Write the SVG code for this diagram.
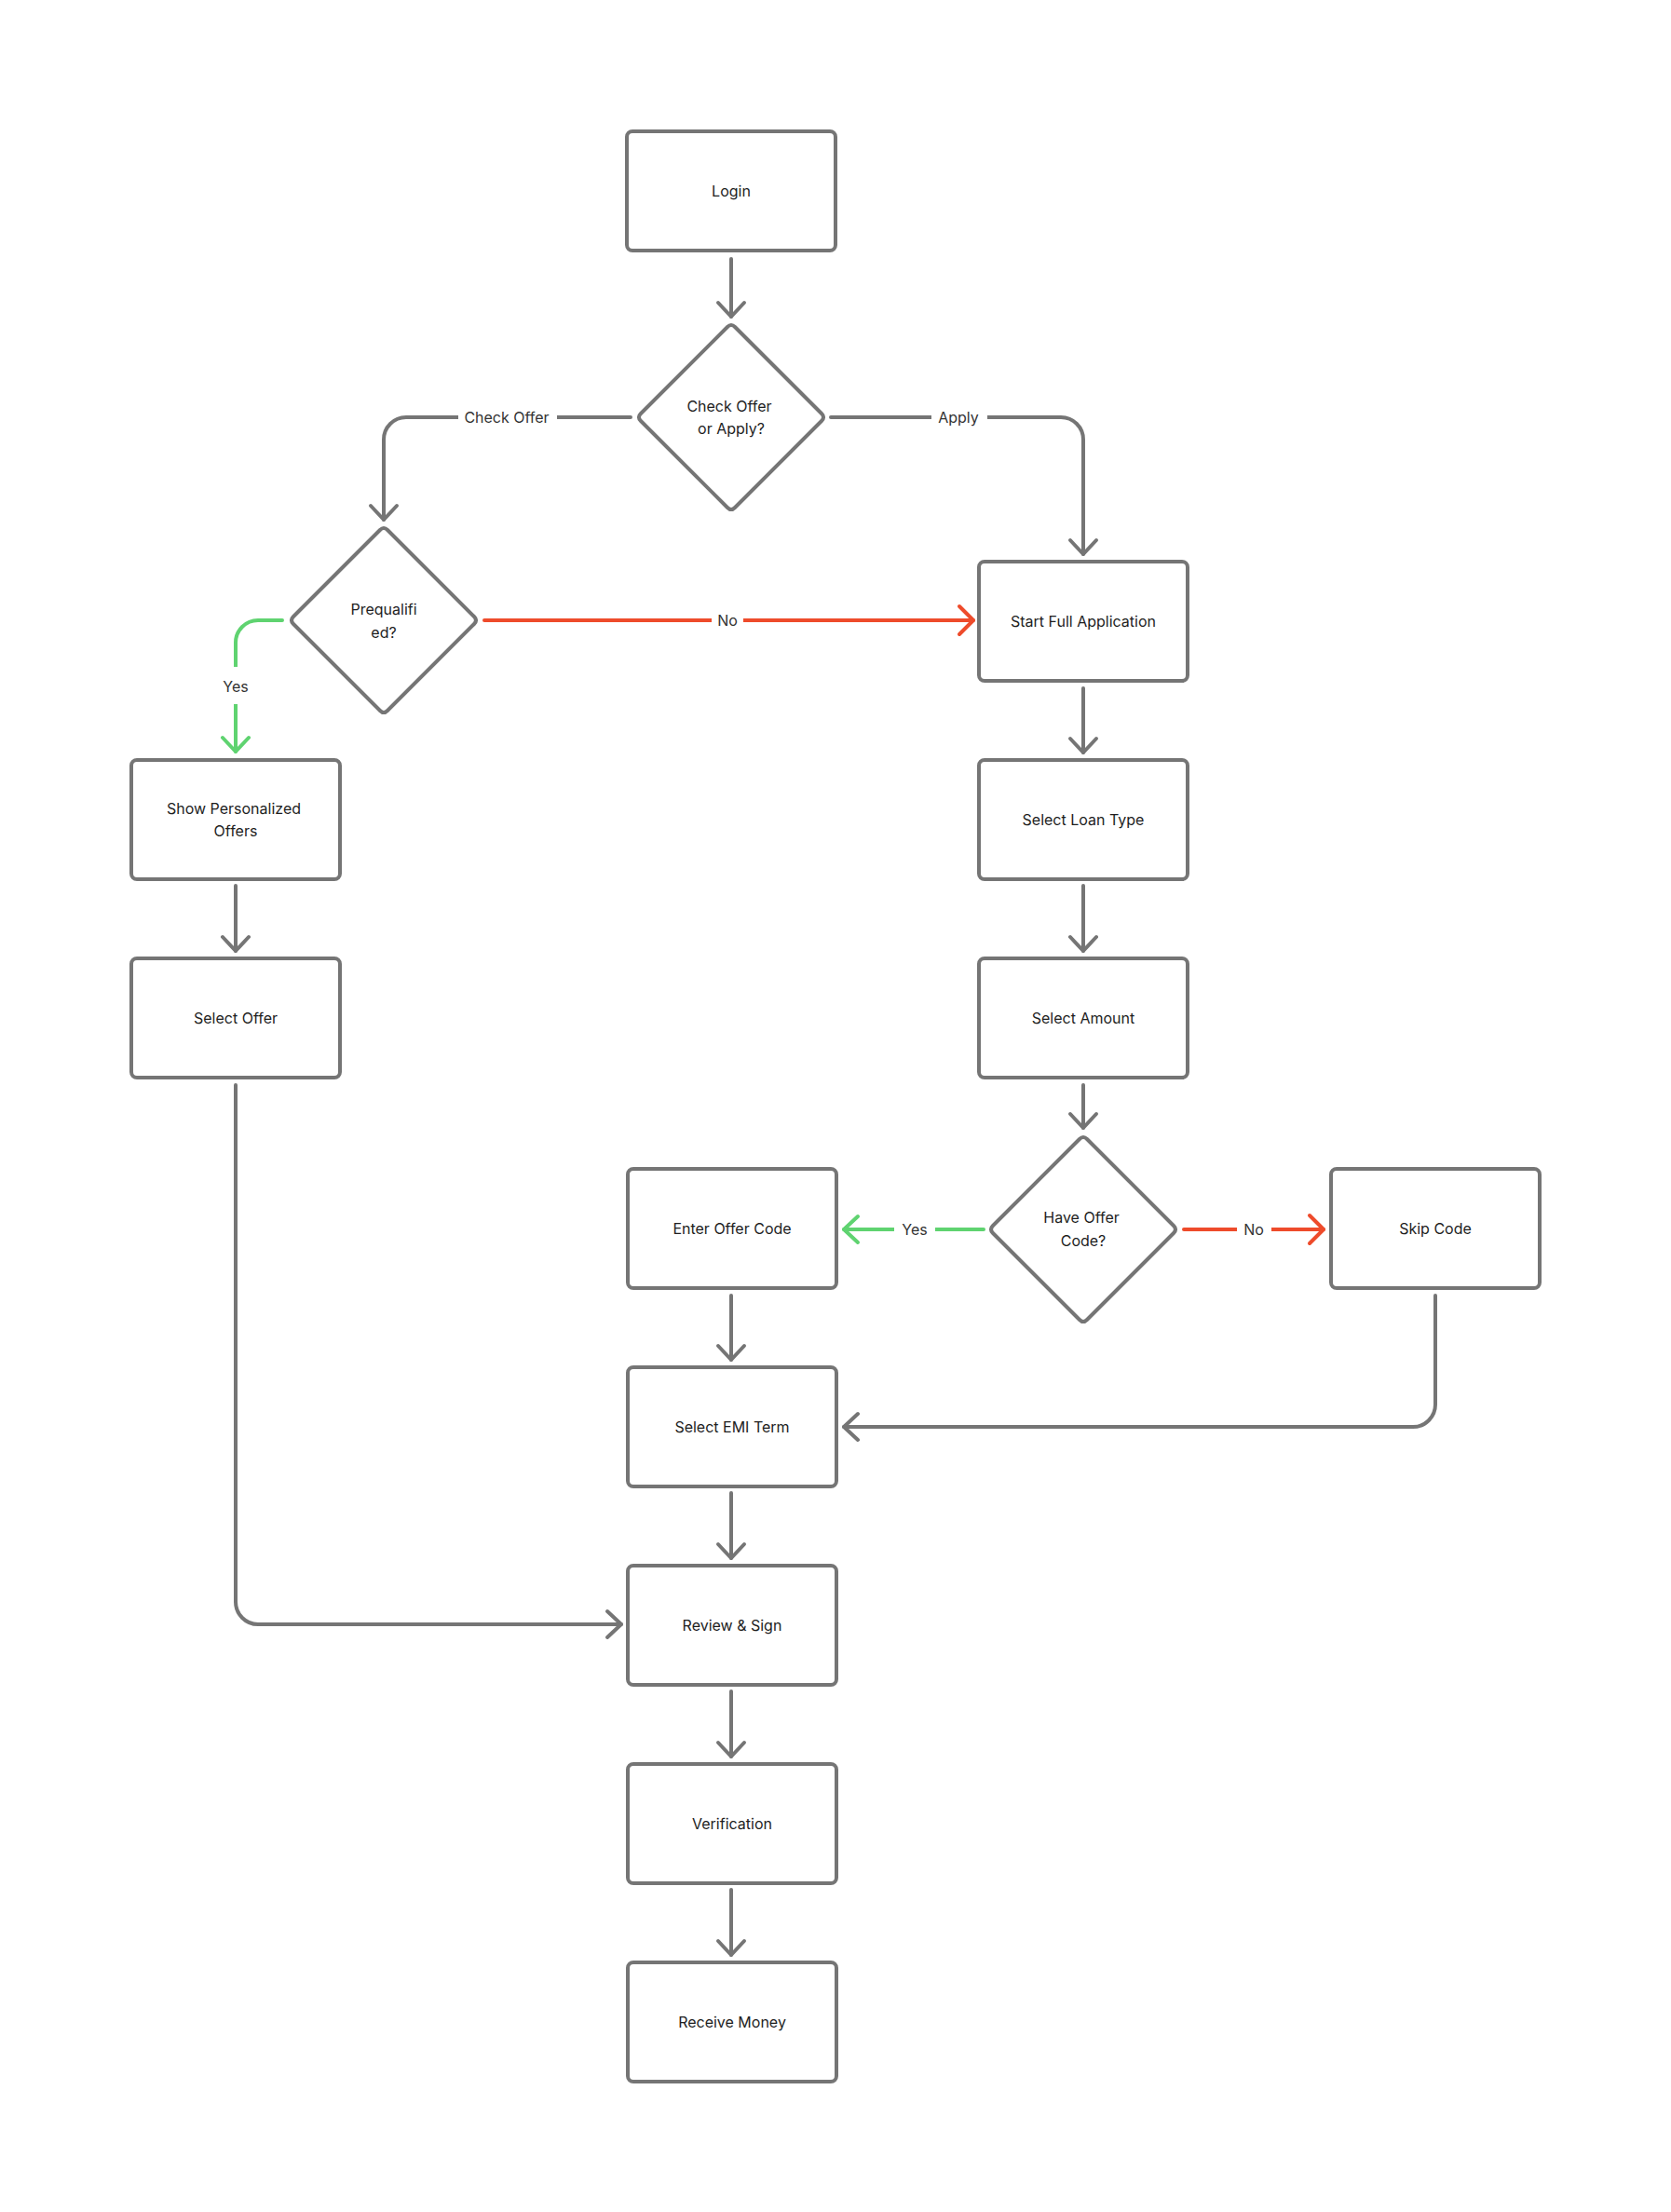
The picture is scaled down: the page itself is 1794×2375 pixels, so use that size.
<svg xmlns="http://www.w3.org/2000/svg" width="1794" height="2375" viewBox="0 0 1794 2375">
<style>
.box{fill:#ffffff;stroke:#757575;stroke-width:4}
.dia{fill:#ffffff;stroke:#757575;stroke-width:4;stroke-linejoin:round}
.t{font-family:Inter,"Noto Sans","Liberation Sans",sans-serif;font-size:16px;fill:#1e1e1e;text-anchor:middle;dominant-baseline:central}
.c{fill:none;stroke:#757575;stroke-width:4;stroke-linecap:round;stroke-linejoin:round}
.red{stroke:#EE4B2B}
.green{stroke:#5FD370}
.lbl{font-family:Inter,"Noto Sans","Liberation Sans",sans-serif;font-size:16px;fill:#333333;text-anchor:middle;dominant-baseline:central}
.bg{fill:#ffffff}
</style>
<defs>
<marker id="ag" markerUnits="userSpaceOnUse" viewBox="-20 -20 40 40" markerWidth="40" markerHeight="40" refX="0" refY="0" orient="auto">
<path d="M-15 -14 L0 0 L-15 14" fill="none" stroke="#757575" stroke-width="4" stroke-linecap="round" stroke-linejoin="round"/>
</marker>
<marker id="ar" markerUnits="userSpaceOnUse" viewBox="-20 -20 40 40" markerWidth="40" markerHeight="40" refX="0" refY="0" orient="auto">
<path d="M-15 -15 L0 0 L-15 15" fill="none" stroke="#EE4B2B" stroke-width="4" stroke-linecap="round" stroke-linejoin="round"/>
</marker>
<marker id="an" markerUnits="userSpaceOnUse" viewBox="-20 -20 40 40" markerWidth="40" markerHeight="40" refX="0" refY="0" orient="auto">
<path d="M-15 -14 L0 0 L-15 14" fill="none" stroke="#5FD370" stroke-width="4" stroke-linecap="round" stroke-linejoin="round"/>
</marker>
</defs>
<rect width="1794" height="2375" fill="#ffffff"/>

<g id="connectors">
<path class="c" d="M785 278 L785 340" marker-end="url(#ag)"/>
<path class="c" d="M677 448 L436 448 A24 24 0 0 0 412 472 L412 558" marker-end="url(#ag)"/>
<rect class="bg" x="492" y="436" width="106" height="24"/>
<text class="lbl" x="544" y="448">Check Offer</text>
<path class="c" d="M892 448 L1139 448 A24 24 0 0 1 1163 472 L1163 595" marker-end="url(#ag)"/>
<rect class="bg" x="1000" y="436" width="60" height="24"/>
<text class="lbl" x="1029" y="448">Apply</text>
<path class="c red" d="M520 666 L1045 666" marker-end="url(#ar)"/>
<rect class="bg" x="764" y="654" width="34" height="24"/>
<text class="lbl" x="781" y="666">No</text>
<path class="c green" d="M303 666 L277 666 A24 24 0 0 0 253 690 L253 807" marker-end="url(#an)"/>
<rect class="bg" x="235" y="716" width="36" height="40"/>
<text class="lbl" x="253" y="737">Yes</text>
<path class="c" d="M253 951 L253 1021" marker-end="url(#ag)"/>
<path class="c" d="M253 1165 L253 1720 A24 24 0 0 0 277 1744 L667 1744" marker-end="url(#ag)"/>
<path class="c" d="M1163 739 L1163 808" marker-end="url(#ag)"/>
<path class="c" d="M1163 951 L1163 1021" marker-end="url(#ag)"/>
<path class="c" d="M1163 1165 L1163 1211" marker-end="url(#ag)"/>
<path class="c green" d="M1056 1320 L906 1320" marker-end="url(#an)"/>
<rect class="bg" x="960" y="1308" width="44" height="24"/>
<text class="lbl" x="982" y="1320">Yes</text>
<path class="c red" d="M1271 1320 L1421 1320" marker-end="url(#ar)"/>
<rect class="bg" x="1328" y="1308" width="37" height="24"/>
<text class="lbl" x="1346" y="1320">No</text>
<path class="c" d="M785 1391 L785 1460" marker-end="url(#ag)"/>
<path class="c" d="M1541 1391 L1541 1508 A24 24 0 0 1 1517 1532 L906 1532" marker-end="url(#ag)"/>
<path class="c" d="M785 1603 L785 1673" marker-end="url(#ag)"/>
<path class="c" d="M785 1816 L785 1886" marker-end="url(#ag)"/>
<path class="c" d="M785 2029 L785 2099" marker-end="url(#ag)"/>
</g>

<g id="login"><rect class="box" x="673" y="141" width="224" height="128" rx="6"/><text class="t" x="785" y="205">Login</text></g>

<g id="check-offer-or-apply"><path class="dia" d="M781 351 Q785 347 789 351 L882 444 Q886 448 882 452 L789 545 Q785 549 781 545 L688 452 Q684 448 688 444 Z"/><text class="t" x="783" y="436">Check Offer</text><text class="t" x="785" y="460">or Apply?</text></g>

<g id="prequalified"><path class="dia" d="M408 569 Q412 565 416 569 L509 662 Q513 666 509 670 L416 763 Q412 767 408 763 L315 670 Q311 666 315 662 Z"/><text class="t" x="412" y="654">Prequalifi</text><text class="t" x="412" y="679">ed?</text></g>

<g id="start-full-application"><rect class="box" x="1051" y="603" width="224" height="128" rx="6"/><text class="t" x="1163" y="667">Start Full Application</text></g>

<g id="show-personalized-offers"><rect class="box" x="141" y="816" width="224" height="128" rx="6"/><text class="t" x="251" y="868">Show Personalized</text><text class="t" x="253" y="892">Offers</text></g>

<g id="select-offer"><rect class="box" x="141" y="1029" width="224" height="128" rx="6"/><text class="t" x="253" y="1093">Select Offer</text></g>

<g id="select-loan-type"><rect class="box" x="1051" y="816" width="224" height="128" rx="6"/><text class="t" x="1163" y="880">Select Loan Type</text></g>

<g id="select-amount"><rect class="box" x="1051" y="1029" width="224" height="128" rx="6"/><text class="t" x="1163" y="1093">Select Amount</text></g>

<g id="have-offer-code"><path class="dia" d="M1159 1223 Q1163 1219 1167 1223 L1260 1316 Q1264 1320 1260 1324 L1167 1417 Q1163 1421 1159 1417 L1066 1324 Q1062 1320 1066 1316 Z"/><text class="t" x="1161" y="1307">Have Offer</text><text class="t" x="1163" y="1332">Code?</text></g>

<g id="enter-offer-code"><rect class="box" x="674" y="1255" width="224" height="128" rx="6"/><text class="t" x="786" y="1319">Enter Offer Code</text></g>

<g id="skip-code"><rect class="box" x="1429" y="1255" width="224" height="128" rx="6"/><text class="t" x="1541" y="1319">Skip Code</text></g>

<g id="select-emi-term"><rect class="box" x="674" y="1468" width="224" height="128" rx="6"/><text class="t" x="786" y="1532">Select EMI Term</text></g>

<g id="review-sign"><rect class="box" x="674" y="1681" width="224" height="128" rx="6"/><text class="t" x="786" y="1745">Review &amp; Sign</text></g>

<g id="verification"><rect class="box" x="674" y="1894" width="224" height="128" rx="6"/><text class="t" x="786" y="1958">Verification</text></g>

<g id="receive-money"><rect class="box" x="674" y="2107" width="224" height="128" rx="6"/><text class="t" x="786" y="2171">Receive Money</text></g>
</svg>
